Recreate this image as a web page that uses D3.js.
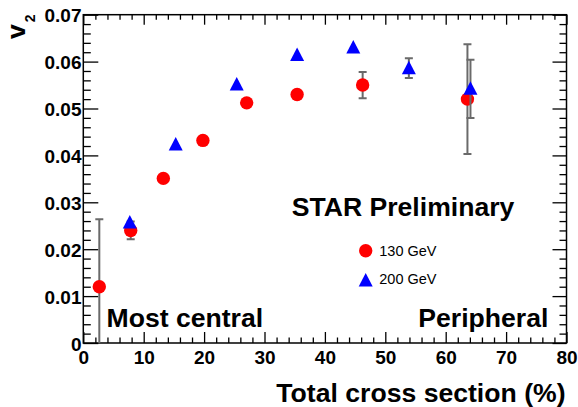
<!DOCTYPE html>
<html>
<head>
<meta charset="utf-8">
<script src="https://cdn.jsdelivr.net/npm/d3@7"></script>
<style>
  body { margin: 0; background: #fff; }
  svg { display: block; }
  text { font-family: "Liberation Sans", Arial, Helvetica, sans-serif; }
</style>
</head>
<body>
<div id="chart"></div>
<script>
// data
var cent130 = [2.65, 7.85, 13.25, 19.8, 27.05, 35.4, 46.25, 63.6];
var v2_130  = [0.0120, 0.0240, 0.0351, 0.0432, 0.0512, 0.0530, 0.0550, 0.0520];
var err130  = [0.0144, 0.0019, 0, 0, 0, 0, 0.0028, 0.0117];

var cent200 = [7.7, 15.3, 25.4, 35.4, 44.7, 53.9, 64.1];
var v2_200  = [0.0257, 0.0423, 0.0551, 0.0614, 0.0630, 0.0586, 0.0542];
var err200  = [0, 0, 0, 0, 0, 0.0021, 0.0062];

var xTicks = [0, 10, 20, 30, 40, 50, 60, 70, 80];
var yTicks = [0, 0.01, 0.02, 0.03, 0.04, 0.05, 0.06, 0.07];
var yTickLabels = ["0", "0.01", "0.02", "0.03", "0.04", "0.05", "0.06", "0.07"];
var legendLabels = ["130 GeV", "200 GeV"];

( function () {
    var W = 578, H = 407;
    var margin = { top: 14.7, left: 83.3, right: 11.5, bottom: 64 },
        width = W - margin.left - margin.right,
        height = H - margin.top - margin.bottom;

    var svg = d3.select("#chart")
        .append("svg")
        .attr("width", W)
        .attr("height", H);

    var g = svg.append("g")
        .attr("transform", "translate(" + margin.left + "," + margin.top + ")");

    var x = d3.scaleLinear().domain([0, 80]).range([0, width]);
    var y = d3.scaleLinear().domain([0, 0.07]).range([height, 0]);

    // minor ticks: 5 per major interval
    var xMinor = d3.range(0, 80.001, 2).filter(function (d) { return d % 10 !== 0; });
    var yMinor = d3.range(0, 70.001, 2).map(function (d) { return d / 1000; })
        .filter(function (d, i) { return i % 5 !== 0; });

    function tickAxis(axis, cls, tr) {
        var a = g.append("g").attr("class", cls);
        if (tr) a.attr("transform", tr);
        a.call(axis);
        a.select(".domain").remove();
        a.selectAll(".tick line").attr("stroke", "#000").attr("stroke-width", 1.3);
        return a;
    }

    // bottom axis with labels
    var xb = tickAxis(d3.axisBottom(x).tickValues(xTicks).tickSize(-11).tickPadding(0)
        .tickFormat(d3.format("d")), "x-axis", "translate(0," + height + ")");
    xb.selectAll(".tick text")
        .attr("y", 21.3).attr("dy", 0)
        .style("font-size", "19px").style("font-weight", "bold").attr("fill", "#000");
    tickAxis(d3.axisBottom(x).tickValues(xMinor).tickSize(-5.5).tickFormat(""),
        "x-minor", "translate(0," + height + ")");
    // top axis (mirror)
    tickAxis(d3.axisTop(x).tickValues(xTicks).tickSize(-10).tickFormat(""), "x-top");
    tickAxis(d3.axisTop(x).tickValues(xMinor).tickSize(-5).tickFormat(""), "x-top-minor");

    // left axis with labels
    var yl = tickAxis(d3.axisLeft(y).tickValues(yTicks).tickSize(-15).tickPadding(0)
        .tickFormat(function (d, i) { return yTickLabels[i]; }), "y-axis");
    yl.selectAll(".tick text")
        .attr("x", -1.8).attr("dy", 7)
        .style("font-size", "19px").style("font-weight", "bold").attr("fill", "#000");
    tickAxis(d3.axisLeft(y).tickValues(yMinor).tickSize(-7.5).tickFormat(""), "y-minor");
    // right axis (mirror)
    tickAxis(d3.axisRight(y).tickValues(yTicks).tickSize(-14).tickFormat(""),
        "y-right", "translate(" + width + ",0)");
    tickAxis(d3.axisRight(y).tickValues(yMinor).tickSize(-7).tickFormat(""),
        "y-right-minor", "translate(" + width + ",0)");

    // frame
    g.append("rect")
        .attr("width", width).attr("height", height)
        .attr("fill", "none").attr("stroke", "#000").attr("stroke-width", 1.5);

    // clip for error bars that run off the frame
    g.append("clipPath").attr("id", "plotclip")
        .append("rect").attr("width", width).attr("height", height);

    var s130 = cent130.map(function (c, i) { return { x: c, y: v2_130[i], e: err130[i] }; });
    var s200 = cent200.map(function (c, i) { return { x: c, y: v2_200[i], e: err200[i] }; });

    var tri = "M0,-7.5L7,6L-7,6Z";

    function errorBars(data) {
        var eb = g.append("g").attr("clip-path", "url(#plotclip)")
            .selectAll("g")
            .data(data.filter(function (d) { return d.e > 0; }))
            .enter().append("g")
            .attr("stroke", "#6a6a6a").attr("stroke-width", 2);
        eb.append("line")
            .attr("x1", function (d) { return x(d.x); })
            .attr("x2", function (d) { return x(d.x); })
            .attr("y1", function (d) { return y(d.y - d.e); })
            .attr("y2", function (d) { return y(d.y + d.e); });
        eb.append("line")
            .attr("x1", function (d) { return x(d.x) - 4; })
            .attr("x2", function (d) { return x(d.x) + 4; })
            .attr("y1", function (d) { return y(d.y + d.e); })
            .attr("y2", function (d) { return y(d.y + d.e); });
        eb.filter(function (d) { return d.y - d.e > 0; }).append("line")
            .attr("x1", function (d) { return x(d.x) - 4; })
            .attr("x2", function (d) { return x(d.x) + 4; })
            .attr("y1", function (d) { return y(d.y - d.e); })
            .attr("y2", function (d) { return y(d.y - d.e); });
    }

    // 130 GeV
    errorBars(s130);
    g.selectAll(".c130")
        .data(s130)
        .enter().append("circle")
        .attr("class", "c130")
        .attr("cx", function (d) { return x(d.x); })
        .attr("cy", function (d) { return y(d.y); })
        .attr("r", 6.7)
        .attr("fill", "#ff0000");

    // 200 GeV
    errorBars(s200);
    g.selectAll(".t200")
        .data(s200)
        .enter().append("path")
        .attr("class", "t200")
        .attr("d", tri)
        .attr("transform", function (d) { return "translate(" + x(d.x) + "," + y(d.y) + ")"; })
        .attr("fill", "#0000ff");

    // texts
    function label(txt, px, py, size, anchor) {
        return svg.append("text")
            .attr("x", px).attr("y", py)
            .attr("text-anchor", anchor || "start")
            .style("font-size", size + "px").style("font-weight", "bold")
            .attr("fill", "#000")
            .text(txt);
    }
    label("STAR Preliminary", 291.7, 216, 26.6);
    label("Most central", 106.5, 327, 26.6);
    label("Peripheral", 418.3, 326.7, 26.6);
    label("Total cross section (%)", 565.5, 402, 26.6, "end");

    // y title v_2
    var yt = svg.append("text")
        .attr("transform", "translate(25,14.5) rotate(-90)")
        .attr("text-anchor", "end")
        .style("font-weight", "bold")
        .attr("fill", "#000");
    yt.append("tspan").style("font-size", "26.6px").text("v");
    yt.append("tspan").attr("dx", 2).attr("dy", 10).style("font-size", "14px").text("2");

    // legend
    var leg = svg.append("g");
    leg.append("circle").attr("cx", 365.7).attr("cy", 250.7).attr("r", 6.7).attr("fill", "#ff0000");
    leg.append("path").attr("d", tri).attr("transform", "translate(365.7,280.5)").attr("fill", "#0000ff");
    leg.selectAll(".lt")
        .data(legendLabels)
        .enter().append("text")
        .attr("class", "lt")
        .attr("x", 379.3)
        .attr("y", function (d, i) { return 256 + i * 28; })
        .style("font-size", "14.5px")
        .attr("fill", "#000")
        .text(function (d) { return d; });
})()
</script>
</body>
</html>
